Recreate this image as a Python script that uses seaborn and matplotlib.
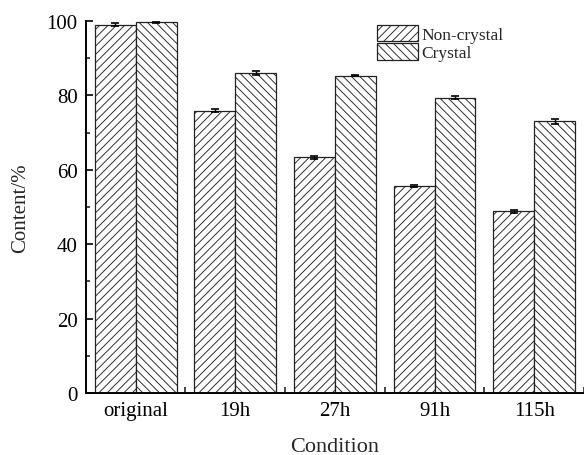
import matplotlib
matplotlib.use("Agg")
import matplotlib.pyplot as plt
from matplotlib.ticker import MultipleLocator, FixedLocator
import seaborn as sns
import pandas as pd
import numpy as np

conditions = ["original", "19h", "27h", "91h", "115h"]
non_crystal = [99.0, 75.8, 63.3, 55.6, 48.8]
crystal = [99.6, 86.0, 85.3, 79.4, 73.0]
non_crystal_err = [0.3, 0.4, 0.4, 0.3, 0.4]
crystal_err = [0.2, 0.5, 0.2, 0.4, 0.6]
series = ["Non-crystal", "Crystal"]

sns.set_theme(style="ticks")
plt.rcParams["font.family"] = ["Liberation Serif", "DejaVu Serif"]
plt.rcParams["hatch.linewidth"] = 0.65
plt.rcParams["hatch.color"] = "#3a3a3a"

df = pd.DataFrame({
    "Condition": conditions * 2,
    "Content": non_crystal + crystal,
    "Type": [series[0]] * 5 + [series[1]] * 5,
})

fig = plt.figure(figsize=(5.84, 4.56), dpi=100)
ax = fig.add_axes([0.147, 0.136, 0.853, 0.816])

sns.barplot(data=df, x="Condition", y="Content", hue="Type", order=conditions,
            hue_order=series, width=0.82, errorbar=None, ax=ax,
            palette=["white", "white"], edgecolor="#222222", linewidth=0.9,
            gap=0)

hatches = ["////", "\\\\\\\\"]
errs = [non_crystal_err, crystal_err]
vals = [non_crystal, crystal]
bar_containers = list(ax.containers)[:2]
for ci, cont in enumerate(bar_containers):
    xs = []
    for bar in cont.patches:
        bar.set_hatch(hatches[ci])
        bar.set_facecolor("white")
        bar.set_edgecolor("#222222")
        xs.append(bar.get_x() + bar.get_width() / 2)
    ax.errorbar(xs, vals[ci], yerr=errs[ci], fmt="none", ecolor="black",
                elinewidth=1.0, capsize=3, capthick=1.2, zorder=5)

ax.set_xlim(-0.5, 4.5)
ax.set_ylim(0, 100)
ax.yaxis.set_major_locator(MultipleLocator(20))
ax.yaxis.set_minor_locator(MultipleLocator(10))
ax.xaxis.set_minor_locator(FixedLocator([0.5, 1.5, 2.5, 3.5, 4.5]))
ax.tick_params(axis="both", which="major", direction="in", length=5, width=1.2,
               labelsize=15, pad=6, colors="black")
ax.tick_params(axis="both", which="minor", direction="in", length=3, width=1.2)
ax.tick_params(axis="x", which="minor", direction="in", length=4)

for s in ["top", "right"]:
    ax.spines[s].set_visible(False)
for s in ["left", "bottom"]:
    ax.spines[s].set_linewidth(1.4)
    ax.spines[s].set_color("black")

ax.set_xlabel("Condition", fontsize=16, labelpad=12)
ax.set_ylabel("Content/%", fontsize=15, labelpad=12)

leg = ax.legend(loc="upper left", bbox_to_anchor=(0.584, 0.99), frameon=False,
                fontsize=12.5, handlelength=2.4, handleheight=1.1,
                handletextpad=0.15, borderpad=0.0, borderaxespad=0.0,
                labelspacing=0.0)
for h, hatch in zip(leg.legend_handles, hatches):
    h.set_hatch(hatch)
    h.set_facecolor("white")
    h.set_edgecolor("#222222")

fig.savefig("out.png", dpi=100)
